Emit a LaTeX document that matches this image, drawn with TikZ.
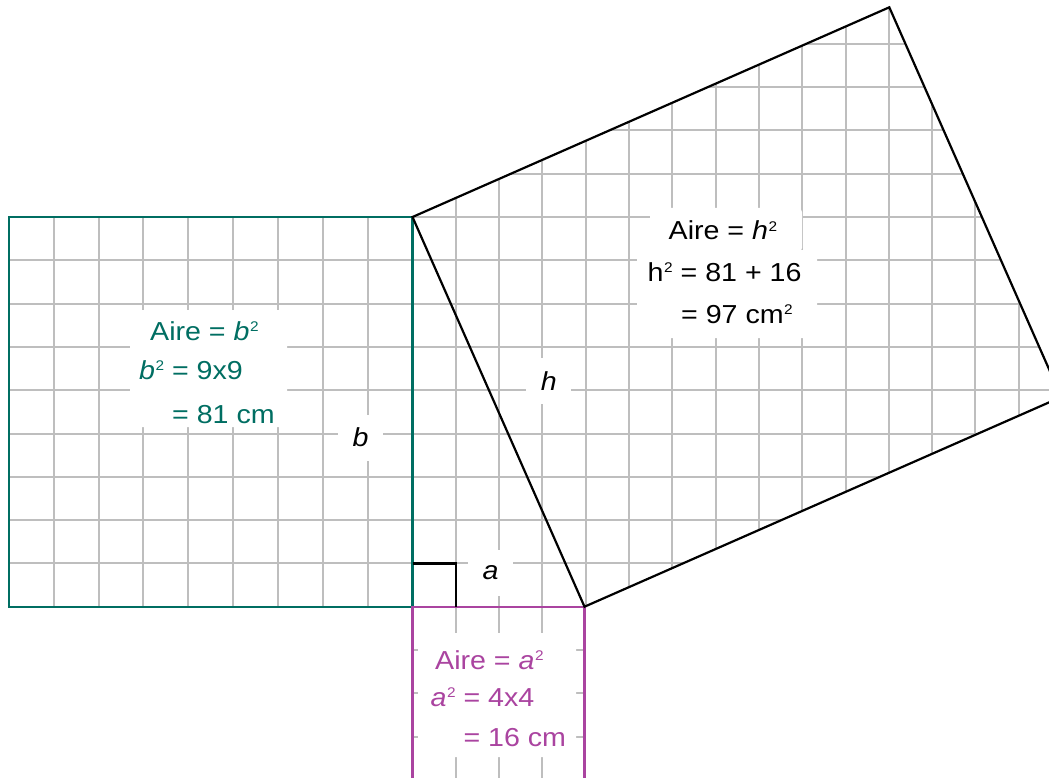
\documentclass[tikz,border=0pt]{standalone}
\usepackage{fontspec}
\setmainfont{Liberation Sans}[FakeStretch=1.1]
\definecolor{tealc}{RGB}{0,110,98}
\definecolor{pinkc}{RGB}{170,68,160}
\definecolor{gridc}{RGB}{190,190,190}
\newcommand\supii{\kern0.5pt\raisebox{9pt}{\fontsize{14}{14}\selectfont 2}}
\tikzset{
  gridl/.style={draw=gridc, line width=2pt},
  edge/.style={line width=2.2pt, line join=miter},
  lbl/.style={font=\fontsize{26}{30}\selectfont, inner sep=0pt, anchor=base west},
  sidelbl/.style={font=\fontsize{26}{30}\selectfont\itshape, fill=white, inner sep=0pt, minimum width=45pt, minimum height=46pt},
  whitebox/.style={fill=white, rounded corners=4pt}
}
\begin{document}
\begin{tikzpicture}[x=1pt,y=-1pt]
\useasboundingbox (0,0) rectangle (1049,778);
\clip (0,0) rectangle (1049,778);
% key points
\coordinate (A) at (412.5,217);
\coordinate (O) at (412.5,606.7);
\coordinate (B) at (584.5,606.7);
\coordinate (D) at (889.3,7.3);
\coordinate (C) at (1061.3,397);
% green square grid
\foreach \i in {1,...,8} {
  \draw[gridl] ({9+44.83*\i},217) -- ({9+44.83*\i},606.7);
  \draw[gridl] (9,{217+43.3*\i}) -- (412.5,{217+43.3*\i});
}
% pink square grid
\foreach \i in {1,...,3} {
  \draw[gridl] ({412.5+43*\i},606.7) -- ({412.5+43*\i},779);
  \draw[gridl] (412.5,{606.7+43.3*\i}) -- (584.5,{606.7+43.3*\i});
}
% triangle + hypotenuse rectangle grid
\begin{scope}
\clip (A) -- (O) -- (B) -- (C) -- (D) -- cycle;
\foreach \i in {1,...,15} \draw[gridl] ({412.5+43.3*\i},0) -- ({412.5+43.3*\i},606.7);
\foreach \i in {1,...,14} \draw[gridl] (412.5,{606.7-43.3*\i}) -- (1100,{606.7-43.3*\i});
\end{scope}
% white label backgrounds
\fill[whitebox] (130,310) rectangle (287,427);
\fill[whitebox] (418,633) rectangle (576,757);
\fill[whitebox] (650,208) rectangle (802,252);
\fill[whitebox] (637,250) rectangle (817,338);
% outlines
\draw[edge, draw=tealc] (9,217) rectangle (412.5,606.7);
\draw[edge, draw=pinkc] (412.5,606.7) rectangle (584.5,779);
\draw[edge] (A) -- (B) -- (C) -- (D) -- cycle;
\draw[edge] (412.5,563.4) -- (455.6,563.4) -- (455.6,606.7);
% side labels
\node[sidelbl] (lb) at (360.5,437.5) {b};
\node[sidelbl] (lh) at (548.7,381) {h};
\node[sidelbl] (la) at (490.5,573) {a};
% green block
\node[lbl, text=tealc] (g1) at (150,340) {Aire = \textit{b}\supii};
\node[lbl, text=tealc] (g2) at (139,379) {\textit{b}\supii\ = 9x9};
\node[lbl, text=tealc] (g3) at (172,423) {= 81 cm};
% pink block
\node[lbl, text=pinkc] (p1) at (435,669) {Aire = \textit{a}\supii};
\node[lbl, text=pinkc] (p2) at (430.5,706.7) {\textit{a}\supii\ = 4x4};
\node[lbl, text=pinkc] (p3) at (463.3,746) {= 16 cm};
% hypotenuse block
\node[lbl] (h1) at (668.5,240) {Aire = \textit{h}\supii};
\node[lbl] (h2) at (647.5,281.7) {h\supii\ = 81 + 16};
\node[lbl] (h3) at (681,323) {= 97 cm\supii};
\end{tikzpicture}
\end{document}
